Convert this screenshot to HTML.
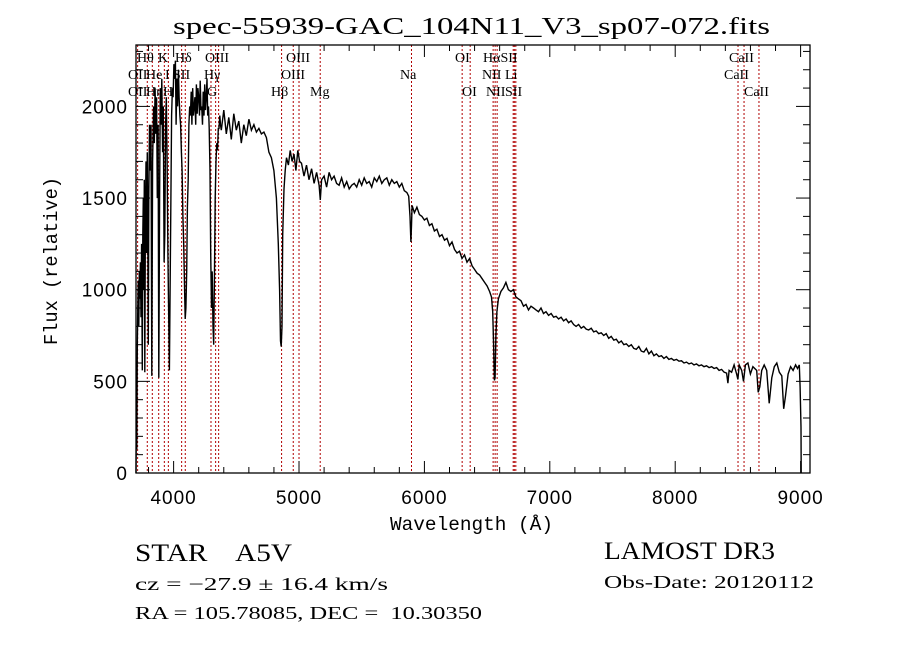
<!DOCTYPE html>
<html><head><meta charset="utf-8"><title>spec-55939-GAC_104N11_V3_sp07-072.fits</title>
<style>html,body{margin:0;padding:0;background:#fff;}svg{display:block;}</style></head>
<body>
<svg id="chart" width="900" height="649" viewBox="0 0 900 649" xmlns="http://www.w3.org/2000/svg">
<rect x="0" y="0" width="900" height="649" fill="#fff"/>
<text x="173" y="34" font-family="Liberation Serif, serif" font-size="24" textLength="597" lengthAdjust="spacingAndGlyphs">spec-55939-GAC_104N11_V3_sp07-072.fits</text>
<g id="lines"></g>
<g id="labels"></g>
<g id="spec"></g>
<g id="axes"></g>
<text x="390" y="530" font-family="Liberation Mono, monospace" font-size="19" textLength="163" lengthAdjust="spacingAndGlyphs">Wavelength (Å)</text>
<text transform="translate(57,345) rotate(-90)" font-family="Liberation Mono, monospace" font-size="19" textLength="168" lengthAdjust="spacingAndGlyphs">Flux (relative)</text>
<text x="135" y="561" font-family="Liberation Serif, serif" font-size="25" textLength="157" lengthAdjust="spacingAndGlyphs" xml:space="preserve">STAR    A5V</text>
<text x="135" y="590" font-family="Liberation Serif, serif" font-size="18" textLength="253" lengthAdjust="spacingAndGlyphs">cz = −27.9 ± 16.4 km/s</text>
<text x="135" y="619" font-family="Liberation Serif, serif" font-size="18" textLength="347" lengthAdjust="spacingAndGlyphs" xml:space="preserve">RA = 105.78085, DEC =  10.30350</text>
<text x="604" y="559" font-family="Liberation Serif, serif" font-size="25" textLength="171" lengthAdjust="spacingAndGlyphs">LAMOST DR3</text>
<text x="604" y="588" font-family="Liberation Serif, serif" font-size="18" textLength="210" lengthAdjust="spacingAndGlyphs">Obs-Date: 20120112</text>
</svg>
<script>
const waves = [3700,3702,3706,3710,3714,3718,3722,3726,3730,3735,3740,3745,3750,3754,3758,3762,3766,3770,3775,3780,3784,3790,3794,3798,3802,3808,3814,3820,3826,3832,3840,3846,3852,3858,3864,3870,3876,3882,3888,3894,3900,3906,3912,3918,3924,3930,3936,3942,3948,3954,3960,3966,3972,3978,3984,3990,3996,4002,4008,4014,4020,4026,4032,4038,4044,4050,4056,4062,4068,4074,4080,4086,4092,4098,4104,4110,4116,4122,4128,4134,4140,4146,4152,4158,4164,4170,4176,4182,4188,4194,4200,4206,4212,4218,4224,4230,4236,4242,4248,4254,4260,4266,4272,4278,4284,4290,4296,4302,4308,4314,4320,4326,4332,4338,4344,4350,4356,4362,4368,4374,4380,4400,4420,4440,4460,4480,4500,4520,4540,4560,4580,4600,4620,4640,4660,4680,4700,4720,4740,4760,4780,4800,4820,4835,4845,4852,4858,4864,4870,4880,4890,4900,4915,4930,4945,4960,4975,4990,5005,5020,5040,5060,5080,5100,5120,5140,5160,5170,5180,5200,5220,5240,5260,5280,5300,5320,5340,5360,5380,5400,5420,5440,5460,5480,5500,5520,5540,5560,5580,5600,5620,5640,5660,5680,5700,5720,5740,5760,5780,5800,5820,5840,5860,5875,5885,5892,5897,5902,5920,5940,5960,5980,6000,6020,6040,6060,6080,6100,6120,6140,6160,6180,6200,6220,6240,6260,6280,6300,6320,6340,6360,6380,6400,6420,6440,6460,6480,6500,6520,6535,6545,6552,6558,6564,6570,6578,6590,6610,6630,6650,6670,6690,6710,6730,6750,6770,6790,6810,6830,6850,6870,6890,6910,6930,6950,6970,6990,7010,7030,7050,7070,7090,7110,7130,7150,7170,7190,7210,7230,7250,7270,7290,7310,7330,7350,7370,7390,7410,7430,7450,7470,7490,7510,7530,7550,7570,7590,7610,7630,7650,7670,7690,7710,7730,7750,7770,7790,7810,7830,7850,7870,7890,7910,7930,7950,7970,7990,8010,8030,8050,8070,8090,8110,8130,8150,8170,8190,8210,8230,8250,8270,8290,8310,8330,8350,8370,8390,8410,8420,8430,8450,8470,8490,8500,8510,8530,8545,8560,8580,8600,8620,8650,8662,8675,8690,8710,8730,8750,8770,8790,8810,8830,8850,8865,8880,8900,8920,8940,8960,8975,8990,8996,9003,9005];
const flux = [0,240,130,700,900,1050,800,1100,950,1150,850,1250,560,1300,1500,1000,1600,550,1400,1700,1200,1750,1300,700,1500,1900,1650,1900,530,1700,2000,1800,2100,1850,2050,1500,1900,520,1500,2100,1900,2150,1750,2000,1150,1300,1900,2050,1700,1200,900,560,1000,1500,1950,2100,2050,2230,2150,2250,1900,2150,2000,2200,2050,1950,1900,1750,1650,1400,1250,1050,840,900,1100,1450,1600,1900,2000,1950,2080,1900,2100,1950,2000,2050,1900,2120,1960,2100,2050,1950,2140,1980,2000,1900,2080,1950,2120,1980,2050,2150,1950,2000,1880,1650,1200,900,1100,800,700,1100,1500,1700,1800,1760,1880,1880,1950,1900,1870,1980,1850,1940,1820,1960,1870,1920,1800,1900,1840,1930,1870,1900,1860,1880,1850,1860,1830,1750,1720,1650,1500,1250,1000,720,690,800,1300,1550,1650,1720,1680,1760,1700,1740,1650,1760,1700,1690,1620,1680,1600,1660,1580,1640,1570,1490,1600,1620,1560,1640,1600,1620,1580,1570,1610,1560,1590,1550,1570,1580,1560,1600,1570,1610,1580,1590,1560,1610,1590,1620,1580,1600,1610,1570,1600,1580,1590,1560,1580,1540,1530,1510,1400,1260,1350,1460,1420,1450,1410,1400,1380,1390,1350,1360,1320,1330,1290,1300,1270,1280,1240,1260,1220,1200,1210,1170,1190,1150,1170,1130,1110,1090,1080,1060,1040,1020,990,960,880,700,505,520,750,880,950,990,1010,1040,1000,990,1000,960,950,940,910,920,890,910,900,890,880,900,870,880,860,870,850,855,840,850,830,840,820,830,810,800,810,790,800,785,780,790,770,775,760,765,750,760,735,745,725,730,710,720,700,705,690,700,680,675,690,665,660,680,650,665,640,650,635,640,625,635,620,625,615,620,610,612,600,605,595,600,590,595,585,590,580,585,575,580,570,575,560,565,550,545,490,560,550,590,540,510,590,560,500,590,600,540,580,560,440,470,560,590,560,380,520,580,600,550,530,350,420,540,580,560,590,570,590,470,250,0];
const lineWaves = [3713,3790,3830,3881,3926,3958,4064,4093,4298,4335,4359,4861,4954,5000,5169,5897,6301,6365,6548,6564,6580,6708,6717,6729,8501,8549,8668];
const labelTexts = ["Hθ","K","Hδ","OIII","OIII","OI","HαSII","CaII","OII","He","I","SII","Hγ","OIII","Na","NII","Li","CaII","OII","Hη","H","G","Hβ","Mg","OI","NII","SII","CaII"];
const labelX = [137,158,175,205,286,455,483,729,128,146,165,173,204,281,400,482,505,724,128,146,163,207,271,310,462,486,505,744];
const labelRow = [0,0,0,0,0,0,0,0,1,1,1,1,1,1,1,1,1,1,2,2,2,2,2,2,2,2,2,2];
const xTicks = [4000,5000,6000,7000,8000,9000];
const yTicks = [0,500,1000,1500,2000];

const NS="http://www.w3.org/2000/svg";
const L=136,R=810,T=45,B=473, W0=3700, W1=9075, F0=0, F1=2335;
function xs(w){return L+(w-W0)/(W1-W0)*(R-L);}
function ys(f){return B-(f-F0)/(F1-F0)*(B-T);}
function mk(tag,attrs,parent){const e=document.createElementNS(NS,tag);for(const k in attrs)e.setAttribute(k,attrs[k]);parent.appendChild(e);return e;}

const gl=document.getElementById('lines');
lineWaves.forEach(w=>{
  const e=mk('line',{x1:xs(w),x2:xs(w),y1:T,y2:B,stroke:'#b00000','stroke-width':1,'stroke-dasharray':'2,2'},gl);
  
  
});
const glab=document.getElementById('labels');
labelTexts.forEach((t,i)=>{
  const e=mk('text',{x:labelX[i],y:62+labelRow[i]*17,'font-family':'Liberation Serif, serif','font-size':14},glab);
  e.textContent=t;
  
  
});
const gs=document.getElementById('spec');
const pts=waves.map((w,i)=>xs(w).toFixed(1)+','+ys(flux[i]).toFixed(1)).join(' ');
const pl=mk('polyline',{points:pts,fill:'none',stroke:'#000','stroke-width':1.4,'stroke-linejoin':'miter'},gs);



const ga=document.getElementById('axes');
const fr=mk('rect',{x:L,y:T,width:R-L,height:B-T,fill:'none',stroke:'#000','stroke-width':1.3},ga);


for(let w=3800;w<=W1;w+=200){
  const major=(w%1000===0), len=major?12:6, x=xs(w);
  mk('line',{x1:x,x2:x,y1:B,y2:B-len,stroke:'#000'},ga);
  mk('line',{x1:x,x2:x,y1:T,y2:T+len,stroke:'#000'},ga);
}
for(let f=100;f<F1;f+=100){
  const major=(f%500===0), len=major?14:7, y=ys(f);
  mk('line',{x1:L,x2:L+len,y1:y,y2:y,stroke:'#000'},ga);
  mk('line',{x1:R,x2:R-len,y1:y,y2:y,stroke:'#000'},ga);
}
xTicks.forEach(v=>{
  const e=mk('text',{x:xs(v),y:504,'text-anchor':'middle','font-family':'Liberation Sans, sans-serif','font-size':19,'letter-spacing':'1'},ga);
  e.textContent=v;
  
  
});
yTicks.forEach(v=>{
  const e=mk('text',{x:128,y:ys(v)+7,'text-anchor':'end','font-family':'Liberation Sans, sans-serif','font-size':19,'letter-spacing':'1'},ga);
  e.textContent=v;
  
  
});
</script>
</body></html>
